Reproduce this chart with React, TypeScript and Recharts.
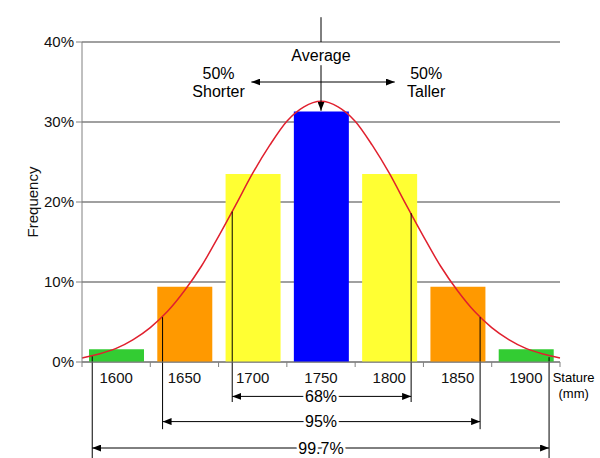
import React from 'react';
import {
  ComposedChart, Bar, Line, XAxis, YAxis, CartesianGrid, ReferenceLine, ReferenceDot, Cell,
} from 'recharts';

// bars: stature class (mm) and frequency (%)
const statures = [1600, 1650, 1700, 1750, 1800, 1850, 1900];
const frequencies = [1.6, 9.4, 23.5, 31.3, 23.5, 9.4, 1.6];
const barColors = ['#33cc33', '#ff9900', '#ffff33', '#0000ff', '#ffff33', '#ff9900', '#33cc33'];

// normal curve
const curveStature = [
  1575, 1587.5, 1600, 1612.5, 1625, 1637.5, 1650, 1662.5, 1675, 1687.5, 1700, 1712.5, 1725, 1737.5, 1750,
  1762.5, 1775, 1787.5, 1800, 1812.5, 1825, 1837.5, 1850, 1862.5, 1875, 1887.5, 1900, 1912.5, 1925,
];
const curveFreq = [
  0.5, 1.0, 1.7, 2.8, 4.3, 6.3, 8.9, 12.0, 15.7, 19.6, 23.6, 27.1, 30.1, 31.9, 32.6,
  31.9, 30.1, 27.1, 23.6, 19.6, 15.7, 12.0, 8.9, 6.3, 4.3, 2.8, 1.7, 1.0, 0.5,
];

const yTicks = [0, 10, 20, 30, 40];

// spread annotations below the axis
const rangeLabels = ['68%', '95%', '99.7%'];
const rangeLow = [1685, 1634, 1582.5];
const rangeHigh = [1816, 1866.5, 1917];
const rangeCurveLow = [18.8, 5.6, 0.7];
const rangeCurveHigh = [18.6, 5.6, 0.6];
const rangeArrowAt = [-4.3, -7.45, -10.75];
const rangeLineEnd = [-5, -8.4, -12];

// bin edges + centres for the x axis
const axisTicks = statures.flatMap((s) => [s - 25, s]).concat(statures[statures.length - 1] + 25);

const plainLine = (p: any) => (
  <line x1={p.x1} y1={p.y1} x2={p.x2} y2={p.y2} stroke="#000" strokeWidth={1} />
);
const endArrow = (p: any) => (
  <line x1={p.x1} y1={p.y1} x2={p.x2} y2={p.y2} stroke="#000" strokeWidth={1} markerEnd="url(#head)" />
);
const doubleArrow = (p: any) => (
  <line x1={p.x1} y1={p.y1} x2={p.x2} y2={p.y2} stroke="#000" strokeWidth={1}
    markerStart="url(#head)" markerEnd="url(#head)" />
);

const stackedLabel = (lines: string[], size: number, gap: number, halo = false) => (props: any) => {
  const vb = props.viewBox;
  const cx = vb.x + vb.width / 2;
  const cy = vb.y + vb.height / 2;
  const first = cy - ((lines.length - 1) * gap) / 2;
  return (
    <g>
      {lines.map((t, i) => (
        <text key={i} x={cx} y={first + i * gap} dy="0.36em" textAnchor="middle" fontSize={size}
          fill="#000" stroke={halo ? '#fff' : 'none'} strokeWidth={halo ? 5 : 0} paintOrder="stroke">
          {t}
        </text>
      ))}
    </g>
  );
};

const StatureTick = ({ x, y, payload }: any) => {
  if (statures.includes(payload.value)) {
    return (
      <text x={x} y={y + 21} textAnchor="middle" fontSize={15} fill="#111">{payload.value}</text>
    );
  }
  return <line x1={x} y1={y} x2={x} y2={y + 5} stroke="#808080" />;
};

const FrequencyLabel = ({ viewBox }: any) => {
  const x = viewBox.x + 37.5;
  const y = viewBox.y + viewBox.height / 2;
  return (
    <text x={x} y={y} transform={`rotate(-90 ${x} ${y})`} textAnchor="middle" fontSize={15} fill="#111">
      Frequency
    </text>
  );
};

export default function App() {
  const barData = statures.map((s, i) => ({ stature: s, freq: frequencies[i] }));
  const curveData = curveStature.map((s, i) => ({ stature: s, freq: curveFreq[i] }));

  return (
    <div style={{
      position: 'absolute', left: 0, top: 0, width: 600, height: 458, background: '#fff',
      fontFamily: '"Liberation Sans", Arial, sans-serif',
    }}>
      <svg width={0} height={0} style={{ position: 'absolute' }}>
        <defs>
          <marker id="head" viewBox="0 0 10 10" refX="10" refY="5" markerWidth="9" markerHeight="7"
            markerUnits="userSpaceOnUse" orient="auto-start-reverse" preserveAspectRatio="none">
            <path d="M0,0 L10,5 L0,10 z" fill="#000" />
          </marker>
        </defs>
      </svg>
      <ComposedChart width={600} height={458} data={barData}
        margin={{ top: 42, right: 40, bottom: 66, left: 0 }}>
        <CartesianGrid vertical={false} stroke="#808080" strokeWidth={1.3} />
        <XAxis dataKey="stature" type="number" domain={[1575, 1925]} ticks={axisTicks} interval={0}
          tick={<StatureTick />} tickLine={false} tickSize={0} tickMargin={0} height={30}
          stroke="#808080" />
        <XAxis xAxisId="cat" dataKey="stature" type="category" hide />
        <YAxis domain={[0, 40]} ticks={yTicks} tickFormatter={(v) => `${v}%`} width={82}
          tickSize={6} tickMargin={2} stroke="#808080" tick={{ fill: '#111', fontSize: 15 }}
          label={{ content: FrequencyLabel }} />
        <Bar xAxisId="cat" dataKey="freq" barSize={55} isAnimationActive={false}>
          {barData.map((d, i) => <Cell key={d.stature} fill={barColors[i]} />)}
        </Bar>
        <Line data={curveData} dataKey="freq" type="monotone" stroke="#e0202e" strokeWidth={1.5}
          dot={false} isAnimationActive={false} />

        {/* average marker */}
        <ReferenceLine ifOverflow="visible" shape={plainLine}
          segment={[{ x: 1750, y: 43.1 }, { x: 1750, y: 40 }]} />
        <ReferenceLine ifOverflow="visible" shape={endArrow}
          segment={[{ x: 1750, y: 37.1 }, { x: 1750, y: 31.4 }]} />
        <ReferenceLine ifOverflow="visible" shape={doubleArrow}
          segment={[{ x: 1699, y: 35 }, { x: 1804, y: 35 }]} />

        {rangeLabels.map((lab, i) => (
          <ReferenceLine key={lab + 'l'} ifOverflow="visible" shape={plainLine}
            segment={[{ x: rangeLow[i], y: rangeCurveLow[i] }, { x: rangeLow[i], y: rangeLineEnd[i] }]} />
        ))}
        {rangeLabels.map((lab, i) => (
          <ReferenceLine key={lab + 'h'} ifOverflow="visible" shape={plainLine}
            segment={[{ x: rangeHigh[i], y: rangeCurveHigh[i] }, { x: rangeHigh[i], y: rangeLineEnd[i] }]} />
        ))}
        {rangeLabels.map((lab, i) => (
          <ReferenceLine key={lab + 'a'} ifOverflow="visible" shape={doubleArrow}
            segment={[{ x: rangeLow[i], y: rangeArrowAt[i] }, { x: rangeHigh[i], y: rangeArrowAt[i] }]} />
        ))}
        {rangeLabels.map((lab, i) => (
          <ReferenceDot key={lab + 't'} x={1750} y={rangeArrowAt[i]} r={0} ifOverflow="visible"
            fill="none" stroke="none" label={{ content: stackedLabel([lab], 16, 0, true) }} />
        ))}

        <ReferenceDot x={1750} y={38.35} r={0} ifOverflow="visible" fill="none" stroke="none"
          label={{ content: stackedLabel(['Average'], 16, 0) }} />
        <ReferenceDot x={1675} y={35} r={0} ifOverflow="visible" fill="none" stroke="none"
          label={{ content: stackedLabel(['50%', 'Shorter'], 16, 18) }} />
        <ReferenceDot x={1827} y={35} r={0} ifOverflow="visible" fill="none" stroke="none"
          label={{ content: stackedLabel(['50%', 'Taller'], 16, 18) }} />
        <ReferenceDot x={1935} y={-2.94} r={0} ifOverflow="visible" fill="none" stroke="none"
          label={{ content: stackedLabel(['Stature', '(mm)'], 13, 15.5) }} />
      </ComposedChart>
    </div>
  );
}
